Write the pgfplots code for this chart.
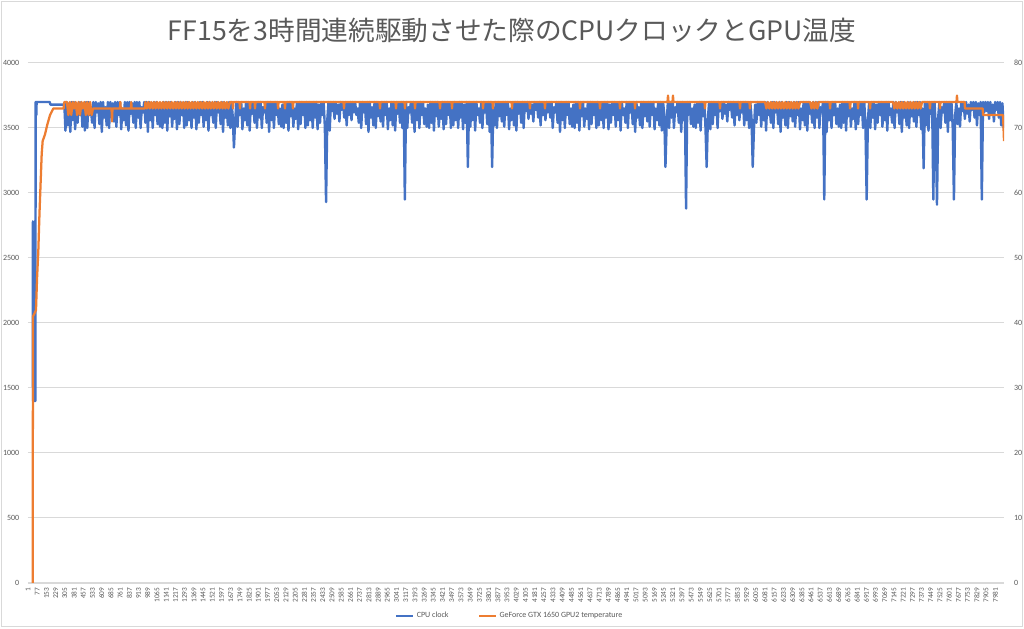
\documentclass[border=0pt]{standalone}
\usepackage{fontspec}
\setmainfont{Carlito}
\newfontfamily\cjk{Noto Sans CJK JP}
\usepackage{pgfplots}
\usepackage{pgfplotstable}
\pgfplotsset{compat=1.18}
\definecolor{cpu}{HTML}{4472C4}
\definecolor{gpu}{HTML}{ED7D31}
\definecolor{gridc}{HTML}{D9D9D9}
\definecolor{txt}{HTML}{595959}

% CPU clock samples, every 10 points from point 300
\pgfplotstableread[row sep=\\, header=false]{
3700\\3480\\3700\\3520\\3690\\3470\\3700\\3560\\3700\\3490\\3680\\3540\\3700\\3600\\3700\\3510\\3690\\3480\\3700\\3500\\
3700\\3600\\3650\\3540\\3700\\3500\\3700\\3620\\3690\\3530\\3700\\3470\\3700\\3580\\3660\\3520\\3700\\3500\\3700\\3590\\
3690\\3550\\3700\\3510\\3700\\3600\\3700\\3490\\3650\\3560\\3700\\3520\\3700\\3480\\3700\\3610\\3690\\3540\\3700\\3500\\
3700\\3580\\3700\\3500\\3660\\3620\\3700\\3540\\3700\\3470\\3700\\3560\\3690\\3500\\3700\\3600\\3700\\3530\\3650\\3510\\
3680\\3500\\3700\\3540\\3700\\3480\\3700\\3590\\3700\\3510\\3650\\3570\\3700\\3490\\3700\\3530\\3700\\3600\\3690\\3500\\
3700\\3520\\3700\\3560\\3690\\3500\\3700\\3580\\3700\\3490\\3680\\3540\\3700\\3600\\3700\\3510\\3690\\3560\\3700\\3480\\
3700\\3600\\3650\\3540\\3700\\3500\\3700\\3620\\3690\\3530\\3700\\3470\\3700\\3580\\3660\\3520\\3700\\3500\\3700\\3590\\
3350\\3550\\3700\\3510\\3700\\3600\\3700\\3490\\3650\\3560\\3700\\3520\\3700\\3480\\3700\\3610\\3690\\3540\\3700\\3500\\
3700\\3580\\3700\\3500\\3660\\3620\\3700\\3540\\3700\\3470\\3700\\3560\\3690\\3500\\3700\\3600\\3700\\3530\\3650\\3510\\
3680\\3500\\3700\\3540\\3700\\3480\\3700\\3590\\3700\\3510\\3650\\3570\\3700\\3490\\3700\\3530\\3700\\3600\\3690\\3500\\
3700\\3520\\3700\\3560\\3690\\3500\\3700\\3580\\3700\\3490\\3680\\3540\\3700\\3600\\3700\\3510\\2930\\3560\\3700\\3480\\
3700\\3630\\3700\\3570\\3700\\3610\\3680\\3550\\3700\\3640\\3700\\3580\\3700\\3520\\3690\\3600\\3700\\3560\\3700\\3620\\
3700\\3600\\3650\\3540\\3700\\3500\\3700\\3620\\3690\\3530\\3700\\3470\\3700\\3580\\3660\\3520\\3700\\3500\\3700\\3590\\
3690\\3550\\3700\\3510\\3700\\3600\\3700\\3490\\3650\\3560\\3700\\3520\\3700\\3480\\3700\\3610\\3690\\3540\\3700\\3500\\
3700\\2950\\3700\\3500\\3660\\3620\\3700\\3540\\3700\\3470\\3700\\3560\\3690\\3500\\3700\\3600\\3700\\3530\\3650\\3510\\
3680\\3500\\3700\\3540\\3700\\3480\\3700\\3590\\3700\\3510\\3650\\3570\\3700\\3490\\3700\\3530\\3700\\3600\\3690\\3500\\
3700\\3520\\3700\\3560\\3690\\3500\\3700\\3580\\3700\\3490\\3680\\3540\\3700\\3200\\3700\\3510\\3690\\3560\\3700\\3480\\
3700\\3600\\3650\\3540\\3700\\3500\\3700\\3620\\3690\\3530\\3700\\3470\\3700\\3200\\3660\\3520\\3700\\3500\\3700\\3590\\
3690\\3550\\3700\\3510\\3700\\3600\\3700\\3490\\3650\\3560\\3700\\3520\\3700\\3480\\3700\\3610\\3690\\3540\\3700\\3500\\
3700\\3630\\3700\\3570\\3700\\3610\\3680\\3550\\3700\\3640\\3700\\3580\\3700\\3520\\3690\\3600\\3700\\3560\\3700\\3620\\
3700\\3580\\3700\\3500\\3660\\3620\\3700\\3540\\3700\\3470\\3700\\3560\\3690\\3500\\3700\\3600\\3700\\3530\\3650\\3510\\
3680\\3500\\3700\\3540\\3700\\3480\\3700\\3590\\3700\\3510\\3650\\3570\\3700\\3490\\3700\\3530\\3700\\3600\\3690\\3500\\
3700\\3520\\3700\\3560\\3690\\3500\\3700\\3580\\3700\\3490\\3680\\3540\\3700\\3600\\3700\\3510\\3690\\3560\\3700\\3480\\
3700\\3600\\3650\\3540\\3700\\3500\\3700\\3620\\3690\\3530\\3700\\3470\\3700\\3580\\3660\\3520\\3700\\3500\\3700\\3590\\
3690\\3550\\3700\\3510\\3700\\3600\\3700\\3490\\3650\\3560\\3700\\3520\\3700\\3480\\3700\\3610\\3200\\3540\\3700\\3500\\
3700\\3580\\3700\\3500\\3660\\3620\\3700\\3540\\3700\\3470\\3700\\3560\\3690\\2880\\3700\\3600\\3700\\3530\\3650\\3510\\
3680\\3500\\3700\\3540\\3700\\3480\\3700\\3590\\3700\\3510\\3200\\3570\\3700\\3490\\3700\\3530\\3700\\3600\\3690\\3500\\
3700\\3630\\3700\\3570\\3700\\3610\\3680\\3550\\3700\\3640\\3700\\3580\\3700\\3520\\3690\\3600\\3700\\3560\\3700\\3620\\
3700\\3520\\3700\\3560\\3690\\3500\\3700\\3580\\3200\\3490\\3680\\3540\\3700\\3600\\3700\\3510\\3690\\3560\\3700\\3480\\
3700\\3600\\3650\\3540\\3700\\3500\\3700\\3620\\3690\\3530\\3700\\3470\\3700\\3580\\3660\\3520\\3700\\3500\\3700\\3590\\
3690\\3550\\3700\\3510\\3700\\3600\\3700\\3490\\3650\\3560\\3700\\3520\\3700\\3480\\3700\\3610\\3690\\3540\\3700\\3500\\
3700\\3580\\3700\\3500\\3660\\3620\\3700\\2950\\3700\\3470\\3700\\3560\\3690\\3500\\3700\\3600\\3700\\3530\\3650\\3510\\
3680\\3500\\3700\\3540\\3700\\3480\\3700\\3590\\3700\\3510\\3650\\3570\\3700\\3490\\3700\\3530\\3700\\3600\\3690\\3500\\
3700\\3520\\2950\\3560\\3690\\3500\\3700\\3580\\3700\\3490\\3680\\3540\\3700\\3600\\3700\\3510\\3690\\3560\\3700\\3480\\
3700\\3600\\3650\\3540\\3700\\3500\\3700\\3620\\3690\\3530\\3700\\3470\\3700\\3580\\3660\\3520\\3700\\3500\\3700\\3590\\
3690\\3550\\3700\\3510\\3700\\3600\\3700\\3490\\3650\\3190\\3700\\3520\\3700\\3480\\3700\\3610\\3690\\2950\\3700\\3500\\
2910\\3580\\3700\\3500\\3660\\3620\\3700\\3540\\3700\\3470\\3700\\3560\\3690\\3500\\2950\\3600\\3700\\3530\\3650\\3510\\
3700\\3630\\3700\\3570\\3700\\3610\\3680\\3550\\3700\\3640\\3700\\3580\\3700\\3520\\3690\\3600\\3700\\2950\\3700\\3620\\
3700\\3630\\3700\\3570\\3700\\3610\\3680\\3550\\3700\\3640\\3700\\3580\\3700\\3520\\3690\\3500\\
}\cpudata

\begin{document}
\begin{tikzpicture}
\useasboundingbox (-21pt,-33.75pt) rectangle (747pt,437.25pt);
\draw[gridc, line width=0.6pt] (-20pt,-32.75pt) rectangle (746pt,436.25pt);
\node[font=\cjk\fontsize{20}{24}\selectfont, text=txt] at (363pt,414.75pt) {FF15を3時間連続駆動させた際のCPUクロックとGPU温度};

\begin{axis}[
  scale only axis, width=732pt, height=390pt,
  at={(0pt,0pt)}, anchor=south west,
  xmin=1, xmax=8053, ymin=0, ymax=4000,
  ytick={0,500,...,4000},
  xtick={1,77,...,7981},
  scaled ticks=false,
  /pgf/number format/1000 sep={},
  /pgf/number format/assume math mode=true,
  axis x line*=bottom, axis y line*=left,
  x axis line style={draw=gridc, line width=0.75pt},
  y axis line style={draw=none},
  major tick length=0pt,
  ymajorgrids, grid style={draw=gridc, line width=0.75pt},
  yticklabel style={font=\fontsize{6}{7}\selectfont, text=txt, xshift=-3pt},
  xticklabel style={font=\fontsize{5.5}{6}\selectfont, text=txt, rotate=90, anchor=east},
]
\addplot[cpu, line width=1.8pt, line join=round] coordinates {
(36,2780)(40,2780)(42,1400)(50,1400)(52,2780)(55,1400)(62,1400)(64,3700)(68,3700)(70,3600)(72,3700)(180,3700)(186,3680)(299,3680)};
\addplot[cpu, line width=1.8pt, line join=round] table[x expr={300+10*\coordindex}, y index=0] {\cpudata};
\end{axis}

\begin{axis}[
  scale only axis, width=732pt, height=390pt,
  at={(0pt,0pt)}, anchor=south west,
  xmin=1, xmax=8053, ymin=0, ymax=80,
  ytick={0,10,...,80},
  scaled ticks=false,
  /pgf/number format/assume math mode=true,
  hide x axis,
  axis y line*=right,
  y axis line style={draw=none},
  major tick length=0pt,
  yticklabel style={font=\fontsize{6}{7}\selectfont, text=txt, xshift=4pt},
  legend columns=2,
  legend style={at={(0.494,-0.0635)}, anchor=center, draw=none, fill=none,
    font=\fontsize{6}{7}\selectfont, text=txt,
    /tikz/every even column/.append style={column sep=20pt}},
  legend image code/.code={\draw[#1] (0pt,0pt) -- (12.5pt,0pt);},
]
\addlegendimage{cpu, line width=1.6pt}
\addlegendentry{CPU clock}
\addplot[gpu, line width=1.7pt, line join=round] coordinates {
(40,0)(42,41)(55,41.5)(67,42)(76,47)(86,51)(96,57)(106,62)(114,66)(122,68)(141,69)(160,70.5)(183,72)(210,73)(295,73)(300,74)(322,74)
(334,72)(346,74)(358,72)(370,74)(382,73)(394,74)(406,72)(418,74)(430,72)(442,74)(454,73)(466,74)(478,72)(490,74)(502,72)(514,74)(526,72)(537,73)
(690,73)(694,71)(698,73)(760,73)(763,74)(766,73)(850,73)(853,74)(856,73)(966,73)
(970,74)(982,73)(994,74)(1006,73)(1018,74)(1030,73)(1042,74)(1054,73)(1066,74)(1078,73)(1090,74)(1102,73)(1114,74)(1126,73)(1138,74)(1150,73)(1162,74)(1174,73)(1186,74)(1198,73)
(1210,74)(1222,73)(1234,74)(1246,73)(1258,74)(1270,73)(1282,74)(1294,73)(1306,74)(1318,73)(1330,74)(1342,73)(1354,74)(1366,73)(1378,74)(1390,73)(1402,74)(1414,73)(1426,74)(1438,73)
(1450,74)(1462,73)(1474,74)(1486,73)(1498,74)(1510,73)(1522,74)(1534,73)(1546,74)(1558,73)(1570,74)(1582,73)(1594,74)(1606,73)(1618,74)(1630,73)(1642,74)(1654,73)(1668,74)
(1688,74)(1692,73)(1696,74)(1746,74)(1750,73)(1754,74)(1829,74)(1833,73)(1837,74)(1870,74)(1874,73)(1878,74)
(1952,74)(1956,73)(1960,74)(2060,74)(2064,73)(2068,74)(2117,74)(2121,73)(2125,74)(2183,74)(2187,73)(2191,74)
(2604,74)(2608,73)(2612,74)(2901,74)(2905,73)(2909,74)(3033,74)(3037,73)(3041,74)(3107,74)(3111,73)(3115,74)
(3190,74)(3194,73)(3198,74)(3396,74)(3400,73)(3404,74)(3495,74)(3499,73)(3503,74)(3751,74)(3755,73)(3759,74)
(3833,74)(3837,73)(3841,74)(3990,74)(3994,73)(3998,74)(4138,74)(4142,73)(4146,74)(4262,74)(4266,73)(4270,74)
(4551,74)(4555,73)(4559,74)(4716,74)(4720,73)(4724,74)(4881,74)(4885,73)(4889,74)(5005,74)(5009,73)(5013,74)
(5277,74)(5281,75)(5285,74)(5318,74)(5322,75)(5326,74)(5582,74)(5586,73)(5590,74)(5706,74)(5710,73)(5714,74)
(5871,74)(5875,73)(5879,74)(5953,74)(5957,73)(5961,74)
(6081,74)(6093,73)(6105,74)(6117,73)(6129,74)(6141,73)(6153,74)(6165,73)(6177,74)(6189,73)(6201,74)(6213,73)(6225,74)(6237,73)(6249,74)(6261,73)(6273,74)(6285,73)(6297,74)(6309,73)(6321,74)(6333,73)(6345,74)(6357,73)(6370,74)
(6453,74)(6465,73)(6477,74)(6489,73)(6501,74)(6513,73)(6525,74)(6535,74)
(6614,74)(6618,73)(6622,74)(6779,74)(6783,73)(6787,74)(6845,74)(6849,73)(6853,74)(6944,74)(6948,73)(6952,74)
(7137,74)(7149,73)(7161,74)(7173,73)(7185,74)(7197,73)(7209,74)(7221,73)(7233,74)(7245,73)(7257,74)(7269,73)(7281,74)(7293,73)(7305,74)(7317,73)(7329,74)(7341,73)(7353,74)(7365,73)(7377,74)(7385,74)
(7438,74)(7442,73)(7446,74)(7521,74)(7525,73)(7529,74)
(7661,74)(7665,75)(7669,74)(7728,74)(7731,73)(7877,73)(7880,72)(8045,72)(8053,68)};
\addlegendentry{GeForce GTX 1650 GPU2 temperature}
\end{axis}
\end{tikzpicture}
\end{document}
